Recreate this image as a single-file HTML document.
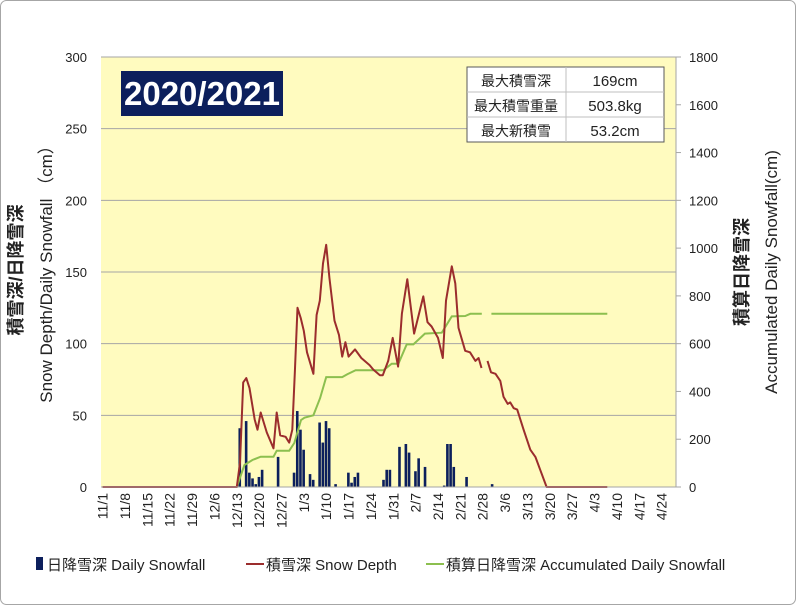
<!DOCTYPE html>
<html><head><meta charset="utf-8"><style>
body{margin:0;background:#fff;}
svg{display:block;font-family:"Liberation Sans","Noto Sans CJK JP",sans-serif;}
</style></head><body>
<svg id="chart" width="796" height="606" viewBox="0 0 796 606">
<rect x="0.5" y="0.5" width="795" height="604" rx="6" fill="#fff" stroke="#a6a6a6"/>
<rect x="101" y="57" width="575" height="430" fill="#fffbbf"/>
<g id="grid"></g>
<g id="bars"></g>
<g id="lines"></g>
<g id="axes"></g>
<rect x="121" y="71" width="162" height="45" fill="#0c1f5c"/>
<text x="202" y="105" font-size="33" font-weight="bold" fill="#fff" text-anchor="middle">2020/2021</text>
<g>
<rect x="467" y="67" width="197" height="75" fill="#fff" stroke="#595959"/>
<line x1="566" y1="67" x2="566" y2="142" stroke="#bfbfbf"/>
<line x1="467" y1="92" x2="664" y2="92" stroke="#bfbfbf"/>
<line x1="467" y1="117" x2="664" y2="117" stroke="#bfbfbf"/>
<text x="516" y="86" font-size="14" text-anchor="middle" fill="#222">最大積雪深</text>
<text x="615" y="86" font-size="15" text-anchor="middle" fill="#222">169cm</text>
<text x="516" y="111" font-size="14" text-anchor="middle" fill="#222">最大積雪重量</text>
<text x="615" y="111" font-size="15" text-anchor="middle" fill="#222">503.8kg</text>
<text x="516" y="136" font-size="14" text-anchor="middle" fill="#222">最大新積雪</text>
<text x="615" y="136" font-size="15" text-anchor="middle" fill="#222">53.2cm</text>
</g>
<text transform="translate(22,270) rotate(-90)" font-size="18" font-weight="bold" text-anchor="middle" fill="#222">積雪深/日降雪深</text>
<text transform="translate(52,270) rotate(-90)" font-size="17" text-anchor="middle" fill="#222">Snow Depth/Daily Snowfall （cm）</text>
<text transform="translate(748,272) rotate(-90)" font-size="18" font-weight="bold" text-anchor="middle" fill="#222">積算日降雪深</text>
<text transform="translate(777,272) rotate(-90)" font-size="17" text-anchor="middle" fill="#222">Accumulated Daily Snowfall(cm)</text>
<g font-size="15" fill="#222">
<rect x="36" y="557" width="7" height="13" fill="#0c1f5c"/>
<text x="47" y="570">日降雪深 Daily Snowfall</text>
<line x1="246" y1="564" x2="264" y2="564" stroke="#9b2d2d" stroke-width="2"/>
<text x="266" y="570">積雪深 Snow Depth</text>
<line x1="426" y1="564" x2="444" y2="564" stroke="#8cbf4f" stroke-width="2"/>
<text x="446" y="570">積算日降雪深 Accumulated Daily Snowfall</text>
</g>
</svg>
<script>
const tickLabels=["11/1","11/8","11/15","11/22","11/29","12/6","12/13","12/20","12/27","1/3","1/10","1/17","1/24","1/31","2/7","2/14","2/21","2/28","3/6","3/13","3/20","3/27","4/3","4/10","4/17","4/24"];
const leftTicks=[0,50,100,150,200,250,300];
const rightTicks=[0,200,400,600,800,1000,1200,1400,1600,1800];
// day index from 11/1
const snowDays=[43,45,46,47,48,49,50,55,60,61,62,63,65,66,68,69,70,71,73,77,78,79,80,88,89,90,93,95,96,98,99,101,107,108,109,110,114,122];
const snowVals=[41,46,10,6,2,7,12,21,10,53,40,26,9,5,45,31,46,41,2,10,3,7,10,5,12,12,28,30,24,11,20,14,1,30,30,14,7,2];
const depthDays=[0,42,43,44,45,46,47.6,48.5,49.5,51.4,53.5,54.5,55.6,57.3,58.4,59.4,60.2,61,62,63,64,66,67,68,69,70,71,72.6,74,75,76,77,79,81,83.6,84.7,86.8,87.7,89.4,90.8,92.5,93.7,95.4,97.5,100.4,101.7,103,105,106.5,107.5,109.3,110.4,111.4,113.5,115,116.7,117.7,118.6,null,120.5,121.6,123,124.5,125.5,126.8,127.6,128.7,129.8,131.8,133.9,135.5,137,139,158];
const depthVals=[0,0,17,73,76,69,47,40,52,38,27,52,36,35,31,40,81,125,118,109,94,79,120,130,156,169,146,116,106,91,101,91,96,90,85,82,78,78,88,104,84,121,145,107,133,115,112,104,90,130,154,142,111,95,94,88,90,83,null,88,80,79,74,63,58,59,55,54,40,26,21,12,0,0];
const accDays=[0,42,44.4,46.9,49.5,53.5,54.5,58.4,60,62.1,63.2,66,68.1,70,75,76.6,79.2,87.9,90.5,92.6,95.2,97.3,100.9,106.2,109.3,113.5,115.1,118.7,null,121.7,158];
const accVals=[0,0,92,113,127,127,152,152,184,280,290,300,372,460,460,472,489,489,516,516,597,597,642,646,714,716,725,725,null,725,725];

const NS='http://www.w3.org/2000/svg';
const X0=101,X1=676,Y0=487,Y1=57,NDAYS=180;
const xd=d=>X0+(d+0.5)*(X1-X0)/NDAYS;
const yL=v=>Y0-v*(Y0-Y1)/300;
const yR=v=>Y0-v*(Y0-Y1)/1800;
function mk(tag,attrs,parent){const e=document.createElementNS(NS,tag);for(const k in attrs)e.setAttribute(k,attrs[k]);parent.appendChild(e);return e;}
const grid=document.getElementById('grid'),axes=document.getElementById('axes'),bars=document.getElementById('bars'),lines=document.getElementById('lines');
leftTicks.forEach(v=>{
  if(v>0){const g=mk('line',{x1:X0,x2:X1,y1:yL(v),y2:yL(v),stroke:'#a6a6a6'},grid);
  
  }
  const t=mk('text',{x:87,y:yL(v)+5,'font-size':13,'text-anchor':'end',fill:'#222'},axes);
  t.textContent=v;
  
  
});
rightTicks.forEach(v=>{
  mk('line',{x1:X1,x2:X1+5,y1:yR(v),y2:yR(v),stroke:'#a6a6a6'},axes);
  const t=mk('text',{x:689,y:yR(v)+5,'font-size':13,fill:'#222'},axes);
  t.textContent=v;
  
  
});
mk('line',{x1:X1,x2:X1,y1:Y1,y2:Y0,stroke:'#a6a6a6'},axes);
mk('line',{x1:X0,x2:X1,y1:Y0,y2:Y0,stroke:'#a6a6a6'},axes);
tickLabels.forEach((s,i)=>{
  const x=xd(i*7);
  const t=mk('text',{transform:`translate(${x+5},493) rotate(-90)`,'font-size':14,'text-anchor':'end',fill:'#222'},axes);
  t.textContent=s;
  
  
});
snowDays.forEach((d,i)=>{
  const v=snowVals[i];
  const r=mk('rect',{x:xd(d)-1.5,y:yL(v),width:2.6,height:Y0-yL(v),fill:'#0c1f5c'},bars);
  
  
});
function path(days,vals,yf){
  let d='',pen=false;
  days.forEach((dd,i)=>{
    if(dd===null||vals[i]===null){pen=false;return;}
    d+=(pen?'L':'M')+xd(dd).toFixed(1)+','+yf(vals[i]).toFixed(1);pen=true;
  });
  return d;
}
const acc=mk('path',{d:path(accDays,accVals,yR),fill:'none',stroke:'#8cbf4f','stroke-width':2},lines);


const dep=mk('path',{d:path(depthDays,depthVals,yL),fill:'none',stroke:'#9b2d2d','stroke-width':2,'stroke-linejoin':'round'},lines);


</script>
</body></html>
